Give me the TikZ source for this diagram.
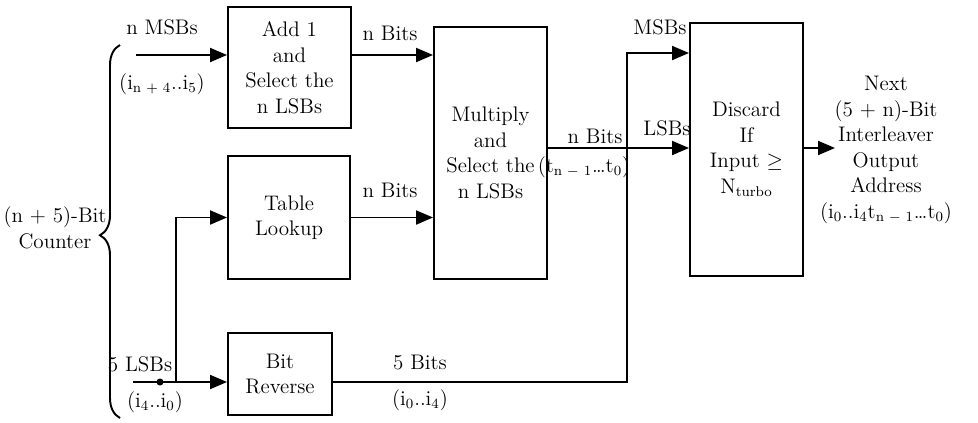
\documentclass[tikz,border=0pt]{standalone}
\usepackage{amsmath, amssymb}
\usetikzlibrary{arrows.meta,decorations.pathreplacing}

\begin{document}
\begin{tikzpicture}[x=0.02cm,y=-0.02cm,
    blk/.style={draw,line width=1.1pt,align=center,inner sep=0pt},
    lbl/.style={align=center,inner sep=1pt},
    arr/.style={-{Triangle[length=0.34cm,width=0.28cm]}},
    every path/.style={line width=1.1pt},
    every node/.append style={font=\fontsize{12}{14.5}\selectfont}]
		\useasboundingbox (0,0) rectangle (978,423);
		% boxes
		\node[blk,minimum width=2.46cm,minimum height=2.42cm] (add) at (289.5,67.5) {Add 1\\and\\Select the\\n LSBs};
		\node[blk,minimum width=2.44cm,minimum height=2.46cm] (table) at (289,217.5) {Table\\Lookup};
		\node[blk,minimum width=2.08cm,minimum height=1.64cm] (bitrev) at (280,374) {Bit\\Reverse};
		\node[blk,minimum width=2.26cm,minimum height=5.04cm] (mult) at (490.5,153) {Multiply\\and\\Select the\\n LSBs};
		\node[blk,minimum width=2.26cm,minimum height=5.06cm] (disc) at (746.5,149.5) {Discard\\If\\Input $\geq$\\N\textsubscript{turbo}};
		% points
		\coordinate (msb) at (136,55);
		\coordinate (lsb) at (133,382);
		\coordinate (split) at (176,382);
		\coordinate (turn) at (627,382);
		\coordinate (msbin) at (627,53);
		\coordinate (mo) at (547,148);
		\coordinate (out) at (835,148);
		% counter brace
		\draw[decorate,decoration={brace,amplitude=0.4cm,aspect=0.49}] (120,418) -- (120,45);
		\node[lbl] (counter) at (55,228) {(n + 5)-Bit\\Counter};
		% connectors
		\draw[arr] (msb) -- (msb -| add.west);
		\draw[arr] (add.east |- msb) -- (mult.west |- msb);
		\draw[arr] (table.east) -- (table.east -| mult.west);
		\draw[arr] (lsb) -- (lsb -| bitrev.west);
		\draw[arr] (split) |- (table.west);
		\fill (160,382) circle (3.5);
		\draw[arr] (bitrev.east |- lsb) -- (turn) -- (msbin) -- (msbin -| disc.west);
		\draw[arr] (mo) -- (mo -| disc.west);
		\draw[arr] (disc.east |- mo) -- (out);
		% labels
		\node[lbl] (msbtxt) at (162,27) {n MSBs};
		\node[lbl] (msbidx) at (162,84) {(i\textsubscript{n + 4}..i\textsubscript{5})};
		\node[lbl] (addbits) at (390,33) {n Bits};
		\node[lbl] (tabbits) at (390,190) {n Bits};
		\node[lbl] (lsbtxt) at (140,364) {5 LSBs};
		\node[lbl] (lsbidx) at (155,402) {(i\textsubscript{4}..i\textsubscript{0})};
		\node[lbl] (revbits) at (420,363) {5 Bits};
		\node[lbl] (revidx) at (420,400) {(i\textsubscript{0}..i\textsubscript{4})};
		\node[lbl] (multbits) at (595,136) {n Bits};
		\node[lbl] (multidx) at (584,167) {(t\textsubscript{n $-$ 1}\ldots t\textsubscript{0})};
		\node[lbl] (msbs) at (660,27) {MSBs};
		\node[lbl] (lsbs) at (667,128) {LSBs};
		\node[lbl] (next) at (886,150) {Next\\(5 + n)-Bit\\Interleaver\\Output\\Address\\(i\textsubscript{0}..i\textsubscript{4}t\textsubscript{n $-$ 1}\ldots t\textsubscript{0})};
	\end{tikzpicture}
\end{document}
